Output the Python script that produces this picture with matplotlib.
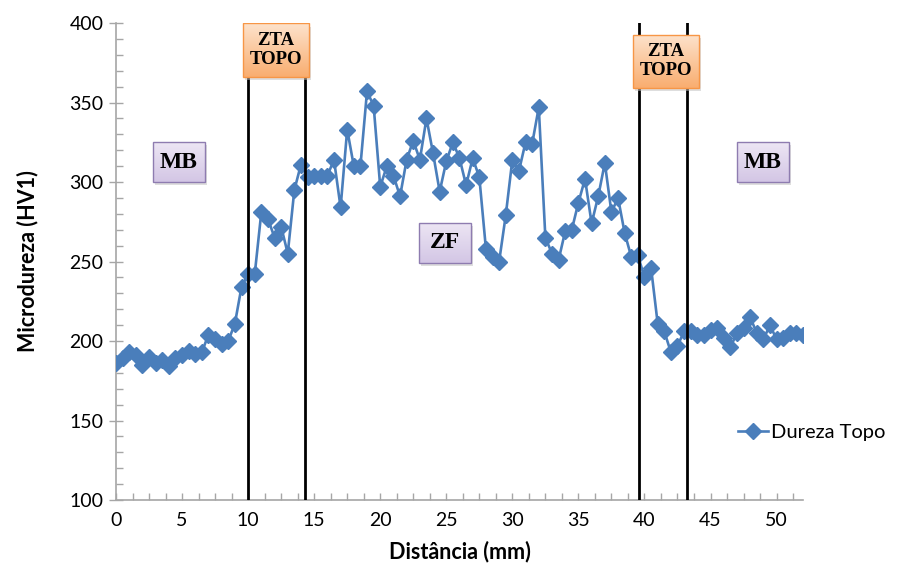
import numpy as np
import matplotlib
matplotlib.use("Agg")
import matplotlib.pyplot as plt
from matplotlib.patches import FancyBboxPatch
from matplotlib.ticker import MultipleLocator

# Hardness profile across the weld, measured every 0.5 mm
distance_mm = np.arange(0, 52.01, 0.5)
hardness_hv1 = [
    186, 189, 193, 191, 185, 190, 186, 188, 184, 189,
    191, 194, 192, 193, 204, 201, 198, 200, 211,
    234, 242, 242, 281, 277, 265, 272, 255, 295, 311,
    303, 304, 304, 304,
    314, 284, 333, 310, 310, 357, 348, 297, 310, 304,
    291, 314, 326, 314, 340, 318, 294, 313, 325, 315,
    298, 315, 303,
    258, 253, 250, 279, 314, 307, 325, 324, 347, 265,
    255, 251, 269, 270, 287, 302, 274, 291, 312, 281,
    290,
    268, 253, 254, 240, 246, 211, 206, 193, 197, 206,
    206, 204, 204, 207, 208, 202, 196, 205, 208, 215,
    205, 201, 210, 201, 202, 205, 205, 204,
]
series_name = "Dureza Topo"

# Zone boundaries (mm)
zone_bounds = [10.0, 14.3, 39.6, 43.2]

x_label = "Distância (mm)"
y_label = "Microdureza (HV1)"

plt.rcParams["font.family"] = ["Lato", "DejaVu Sans"]

W, H = 911, 571
fig = plt.figure(figsize=(W / 100, H / 100), dpi=100)
ax = fig.add_axes([116 / W, 1 - 500 / H, (803 - 116) / W, (500 - 23) / H])

ax.set_xlim(0, 52)
ax.set_ylim(100, 400)

blue = "#4a7ebb"
ax.plot(distance_mm, hardness_hv1, color=blue, lw=1.9, marker="D", ms=7.8,
        mec=blue, mfc=blue, label=series_name, zorder=3)

for xb in zone_bounds:
    ax.axvline(xb, color="black", lw=2.0, zorder=4)

# Axes styling
for side in ("top", "right"):
    ax.spines[side].set_visible(False)
for side in ("left", "bottom"):
    ax.spines[side].set_color("#a6a6a6")
    ax.spines[side].set_linewidth(1.2)

ax.xaxis.set_major_locator(MultipleLocator(5))
ax.xaxis.set_minor_locator(MultipleLocator(1.25))
ax.yaxis.set_major_locator(MultipleLocator(50))
ax.yaxis.set_minor_locator(MultipleLocator(10))
ax.tick_params(axis="x", which="both", direction="in", length=5, width=1,
               color="#a6a6a6", labelsize=14, pad=9)
ax.tick_params(axis="y", which="major", direction="inout", length=10, width=1,
               color="#a6a6a6", labelsize=14, pad=4)
ax.tick_params(axis="y", which="minor", direction="in", length=5, width=1,
               color="#a6a6a6")

ax.set_xlabel(x_label, fontsize=15.5, fontweight="bold", labelpad=8)
ax.set_ylabel(y_label, fontsize=15.5, fontweight="bold", labelpad=22)


def px_to_data(px, py):
    x = (px - 116) / (803 - 116) * 52
    y = 400 - (py - 23) / (500 - 23) * 300
    return x, y


def gradient_box(cx, cy, w, h, text, top_color, bottom_color, edge, fs):
    x0, y1 = px_to_data(cx - w / 2, cy - h / 2)
    x1, y0 = px_to_data(cx + w / 2, cy + h / 2)
    # soft shadow
    sx0, sy1 = px_to_data(cx - w / 2 + 2, cy - h / 2 + 3)
    sx1, sy0 = px_to_data(cx + w / 2 + 2, cy + h / 2 + 3)
    shadow = FancyBboxPatch((sx0, sy0), sx1 - sx0, sy1 - sy0,
                            boxstyle="square,pad=0", fc="#bfbfbf",
                            ec="none", alpha=0.5, zorder=5)
    ax.add_patch(shadow)
    box = FancyBboxPatch((x0, y0), x1 - x0, y1 - y0, boxstyle="square,pad=0",
                         fc="none", ec=edge, lw=1.0, zorder=7)
    ax.add_patch(box)
    c_top = np.array(matplotlib.colors.to_rgb(top_color))
    c_bot = np.array(matplotlib.colors.to_rgb(bottom_color))
    t = np.linspace(0, 1, 64)[:, None]
    grad = (c_top[None, :] * (1 - t) + c_bot[None, :] * t)[:, None, :]
    im = ax.imshow(grad, extent=(x0, x1, y0, y1), origin="upper",
                   aspect="auto", zorder=6, interpolation="bilinear")
    im.set_clip_path(box)
    ax.text((x0 + x1) / 2, (y0 + y1) / 2, text, ha="center", va="center",
            family=["Liberation Serif", "DejaVu Serif"], fontweight="bold",
            fontsize=fs, color="black", zorder=8, linespacing=1.1)


orange = ("#fde3cc", "#f9ad70", "#f79646")
lavender = ("#ede6f4", "#d3c6e5", "#8e7cb0")

gradient_box(276, 50, 66, 53, "ZTA\nTOPO", *orange, 13.5)
gradient_box(666, 61, 66, 53, "ZTA\nTOPO", *orange, 13.5)
gradient_box(179, 162, 52, 40, "MB", *lavender, 17)
gradient_box(763, 162, 52, 40, "MB", *lavender, 17)
gradient_box(445, 243, 52, 40, "ZF", *lavender, 17)

ax.set_xticks(np.arange(0, 51, 5))
ax.set_xlim(0, 52)
ax.set_ylim(100, 400)

leg = ax.legend(loc="center left", bbox_to_anchor=((738 - 116) / 687, (500 - 432) / 477),
                frameon=False, fontsize=14.5, handlelength=1.5, handletextpad=0.15,
                borderaxespad=0, borderpad=0)

fig.savefig("out.png", dpi=100)
